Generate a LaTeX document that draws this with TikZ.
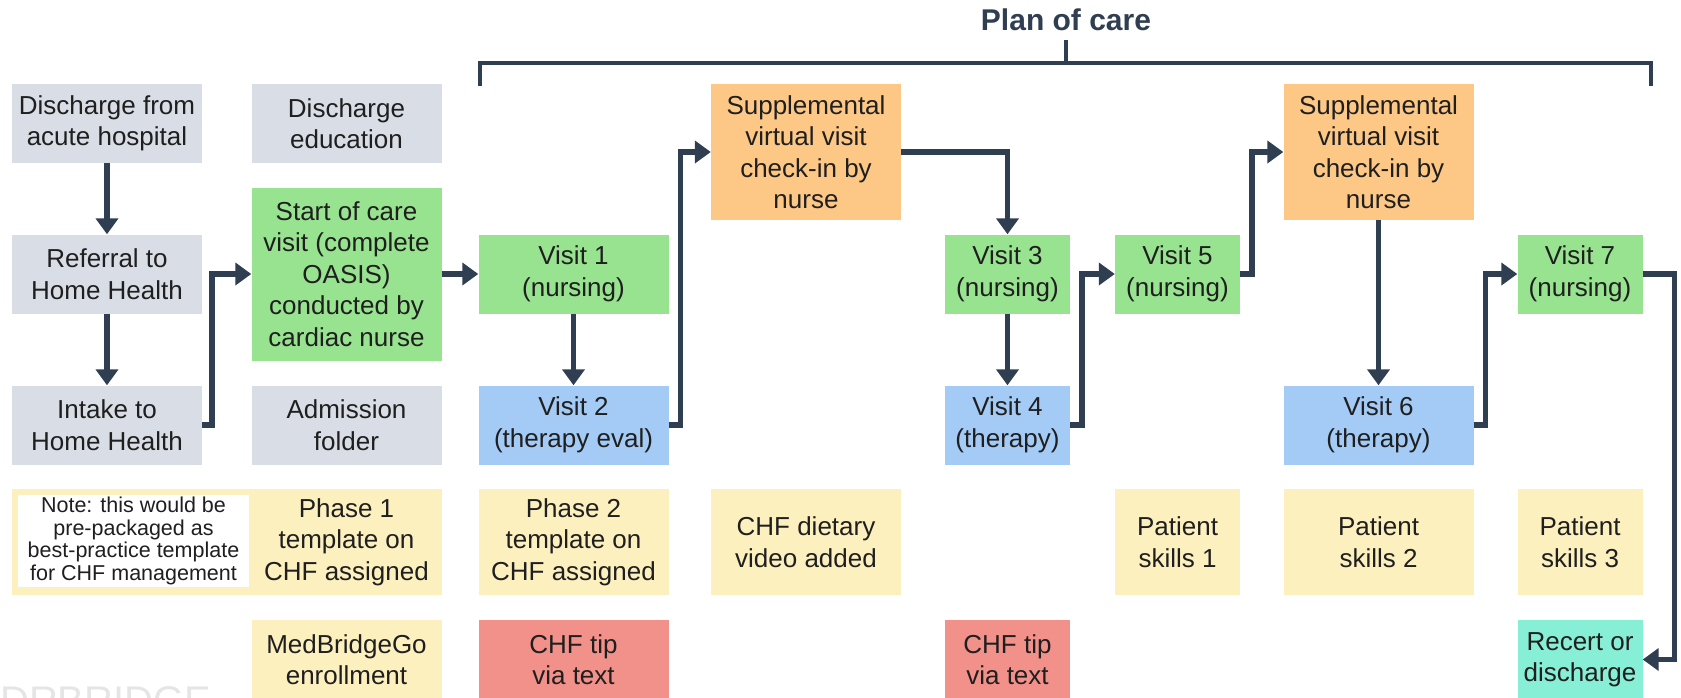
\documentclass[tikz,border=0pt]{standalone}
\usepackage{fontspec}
\setmainfont{Liberation Sans}
\usetikzlibrary{arrows.meta}

\definecolor{greybox}{HTML}{D9DEE6}
\definecolor{greenbox}{HTML}{98E38F}
\definecolor{bluebox}{HTML}{A3CBF5}
\definecolor{orangebox}{HTML}{FDC886}
\definecolor{yellowbox}{HTML}{FDF0BF}
\definecolor{redbox}{HTML}{F1918A}
\definecolor{tealbox}{HTML}{86EFD5}
\definecolor{flowline}{HTML}{2F3E50}

\begin{document}
\begin{tikzpicture}[x=1pt, y=-1pt, >={Triangle[length=16pt,width=22pt]},
    box/.style={rectangle, inner sep=0pt, align=center, text=black!88, font=\fontsize{26}{31.5}\selectfont},
    wbox/.style={box, minimum width=190pt, minimum height=79pt},
    nbox/.style={box, minimum width=125pt, minimum height=79pt},
    flow/.style={draw=flowline, line width=5.5pt}]
    \useasboundingbox (0,0) rectangle (1681,697);

    \node[anchor=north west, inner sep=0pt, text=black!10, font=\fontsize{40}{40}\selectfont] (mark) at (0,686) {DRBRIDGE};

    \node[font=\bfseries\fontsize{30}{36}\selectfont, text=flowline] (plan) at (1066,20) {Plan of care};
    \draw[flowline, line width=3.5pt] (480,86) -- (480,63) -- (1651,63) -- (1651,86);
    \draw[flowline, line width=3.5pt] (1066,63) -- (1066,40);

    \node[wbox, fill=greybox] (dischosp) at (107,123.5) {Discharge from\\acute hospital};
    \node[wbox, fill=greybox] (referral) at (107,274) {Referral to\\Home Health};
    \node[wbox, fill=greybox] (intake) at (107,425) {Intake to\\Home Health};

    \node[wbox, fill=greybox] (disced) at (346.5,123.5) {Discharge\\education};
    \node[wbox, fill=greenbox, minimum height=173pt] (soc) at (346.5,274) {Start of care\\visit (complete\\OASIS)\\conducted by\\cardiac nurse};
    \node[wbox, fill=greybox] (admfolder) at (346.5,425) {Admission\\folder};
    \fill[yellowbox] (12,489) rectangle (441,595);
    \node[wbox, fill=yellowbox, minimum height=106pt] (phase1) at (346.5,542) {Phase 1\\template on\\CHF assigned};
    \node[box, fill=white, minimum width=231pt, minimum height=92pt, font=\fontsize{21.5}{22.5}\selectfont] (note) at (133.5,541) {Note: this would be\\pre-packaged as\\best-practice template\\for CHF management};
    \node[wbox, fill=yellowbox] (medbridge) at (346.5,659.5) {MedBridgeGo\\enrollment};

    \node[wbox, fill=greenbox] (visit1) at (573.5,274) {Visit 1\\(nursing)};
    \node[wbox, fill=bluebox] (visit2) at (573.5,425) {Visit 2\\(therapy eval)};
    \node[wbox, fill=yellowbox, minimum height=106pt] (phase2) at (573.5,542) {Phase 2\\template on\\CHF assigned};
    \node[wbox, fill=redbox] (tip1) at (573.5,659.5) {CHF tip\\via text};

    \node[wbox, fill=orangebox, minimum height=136pt] (supp1) at (806,152) {Supplemental\\virtual visit\\check-in by\\nurse};
    \node[wbox, fill=yellowbox, minimum height=106pt] (dietary) at (806,542) {CHF dietary\\video added};

    \node[nbox, fill=greenbox] (visit3) at (1007.5,274) {Visit 3\\(nursing)};
    \node[nbox, fill=bluebox] (visit4) at (1007.5,425) {Visit 4\\(therapy)};
    \node[nbox, fill=redbox] (tip2) at (1007.5,659.5) {CHF tip\\via text};

    \node[nbox, fill=greenbox] (visit5) at (1177.5,274) {Visit 5\\(nursing)};
    \node[nbox, fill=yellowbox, minimum height=106pt] (skills1) at (1177.5,542) {Patient\\skills 1};

    \node[wbox, fill=orangebox, minimum height=136pt] (supp2) at (1378.5,152) {Supplemental\\virtual visit\\check-in by\\nurse};
    \node[wbox, fill=bluebox] (visit6) at (1378.5,425) {Visit 6\\(therapy)};
    \node[wbox, fill=yellowbox, minimum height=106pt] (skills2) at (1378.5,542) {Patient\\skills 2};

    \node[nbox, fill=greenbox] (visit7) at (1580,274) {Visit 7\\(nursing)};
    \node[nbox, fill=yellowbox, minimum height=106pt] (skills3) at (1580,542) {Patient\\skills 3};
    \node[nbox, fill=tealbox] (recert) at (1580,659.5) {Recert or\\discharge};

    \draw[flow,->] (dischosp) -- (referral);
    \draw[flow,->] (referral) -- (intake);
    \draw[flow,->] (intake.east) -- ++(10,0) |- (soc);
    \draw[flow,->] (soc) -- (visit1);
    \draw[flow,->] (visit1) -- (visit2);
    \draw[flow,->] (visit2.east) -- ++(12,0) |- (supp1);
    \draw[flow,->] (supp1) -| (visit3);
    \draw[flow,->] (visit3) -- (visit4);
    \draw[flow,->] (visit4.east) -- ++(12,0) |- (visit5);
    \draw[flow,->] (visit5.east) -- ++(12,0) |- (supp2);
    \draw[flow,->] (supp2) -- (visit6);
    \draw[flow,->] (visit6.east) -- ++(12,0) |- (visit7);
    \draw[flow,->] (visit7.east) -- ++(32,0) |- (recert);
\end{tikzpicture}
\end{document}
